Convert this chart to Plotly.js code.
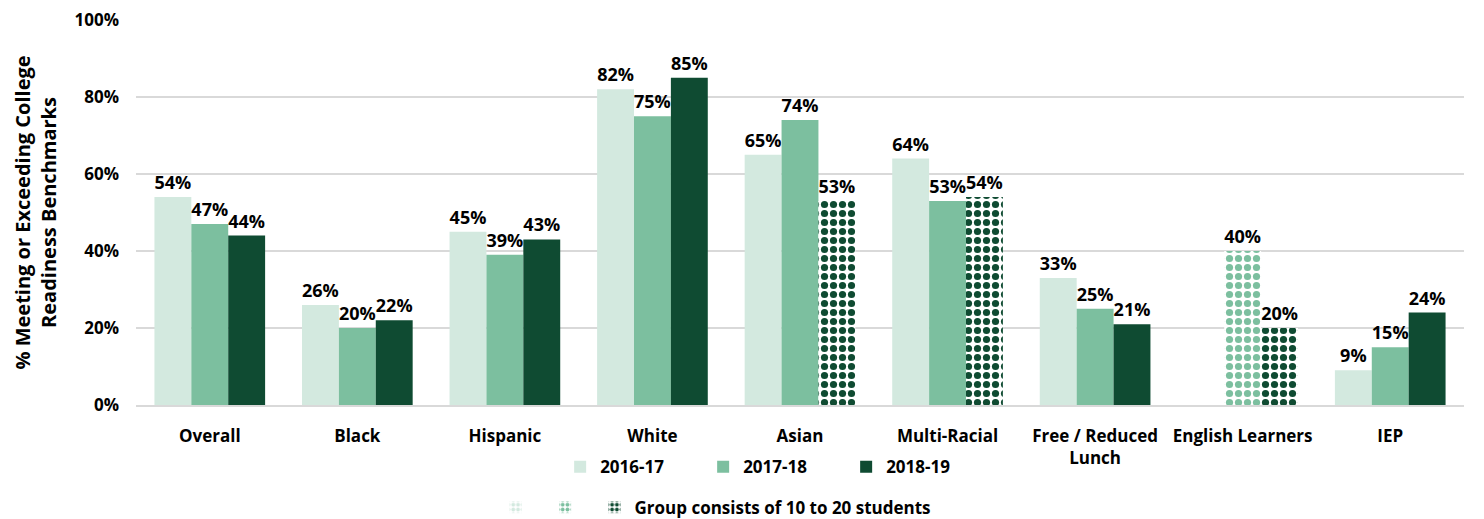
<!DOCTYPE html>
<html><head><meta charset="utf-8">
<script src="https://cdn.plot.ly/plotly-3.0.1.min.js"></script>
<style>body{margin:0;background:#fff}#chart{width:1484px;height:519px}</style>
</head><body><div id="chart"></div>
<script>
const categories = ['Overall','Black','Hispanic','White','Asian','Multi-Racial','Free / Reduced<br>Lunch','English Learners','IEP'];
const years = ['2016-17','2017-18','2018-19'];
const v2016 = [54, 26, 45, 82, 65, 64, 33, null, 9];
const v2017 = [47, 20, 39, 75, 74, 53, 25, 40, 15];
const v2018 = [44, 22, 43, 85, 53, 54, 21, 20, 24];
// true = group consists of 10 to 20 students (patterned)
const small2016 = [false,false,false,false,false,false,false,false,false];
const small2017 = [false,false,false,false,false,false,false,true,false];
const small2018 = [false,false,false,false,true,true,false,true,false];
const colors = ['#d3e9df', '#7cbf9f', '#0f4b32'];
const smallNote = 'Group consists of 10 to 20 students';

const font = '"Open Sans", Lato, sans-serif';
function mk(name, vals, small, color) {
  return {
    type: 'bar', name: name, x: categories, y: vals,
    text: vals.map(v => v == null ? '' : v + '%'),
    textposition: 'outside', constraintext: 'none', cliponaxis: false,
    textfont: {family: font, size: 18, color: '#000', weight: 'bold'},
    marker: {color: color, line: {width: 0},
      pattern: {shape: small.map(s => s ? '.' : ''), fgcolor: color, bgcolor: '#ffffff', size: 9, solidity: 0.5, fillmode: 'replace'}},
    legend: 'legend', hoverinfo: 'skip'
  };
}
const traces = [mk(years[0], v2016, small2016, colors[0]), mk(years[1], v2017, small2017, colors[1]), mk(years[2], v2018, small2018, colors[2])];
colors.forEach((c, i) => {
  traces.push({type: 'bar', x: [categories[0]], y: [0], xaxis: 'x2', yaxis: 'y2',
    name: i === 2 ? smallNote : ' ', legend: 'legend2', showlegend: true, hoverinfo: 'skip',
    marker: {color: c, line: {width: 0}, pattern: {shape: '.', fgcolor: c, bgcolor: '#ffffff', size: 6, solidity: 0.5}}});
});

const layout = {
  width: 1484, height: 519,
  margin: {l: 136, r: 20, t: 20, b: 114},
  paper_bgcolor: '#fff', plot_bgcolor: '#fff',
  barmode: 'group', bargap: 0.25, bargroupgap: 0,
  font: {family: font, color: '#000'},
  xaxis: {tickfont: {family: font, size: 17, weight: 'bold'}, showline: true, linecolor: '#d9d9d9', linewidth: 1.5, ticks: '', automargin: false, ticklabelstandoff: 15},
  yaxis: {range: [0, 100], dtick: 20, ticksuffix: '%', tickfont: {family: font, size: 17, weight: 'bold'},
    showgrid: true, gridcolor: '#d9d9d9', gridwidth: 1.5, zeroline: false, ticks: '', ticklabelstandoff: 16,
    title: {text: '% Meeting or Exceeding College<br>Readiness Benchmarks', font: {family: font, size: 20, weight: 'bold'}, standoff: 12}, automargin: false},
  xaxis2: {overlaying: 'x', visible: false, range: [10, 11]},
  yaxis2: {overlaying: 'y', visible: false, range: [0, 1]},
  showlegend: true,
  legend: {orientation: 'h', x: 0.522, xanchor: 'center', xref: 'container', y: 0.1, yref: 'container', yanchor: 'middle',
    font: {family: font, size: 17, weight: 'bold'}, itemwidth: 30, traceorder: 'normal', entrywidth: 98, entrywidthmode: 'pixels'},
  legend2: {orientation: 'h', x: 0.334, xanchor: 'left', xref: 'container', y: 0.022, yref: 'container', yanchor: 'middle',
    font: {family: font, size: 17, weight: 'bold'}, itemwidth: 30, traceorder: 'normal', tracegroupgap: 0}
};
Plotly.newPlot('chart', traces, layout, {displayModeBar: false, staticPlot: true});
</script></body></html>
